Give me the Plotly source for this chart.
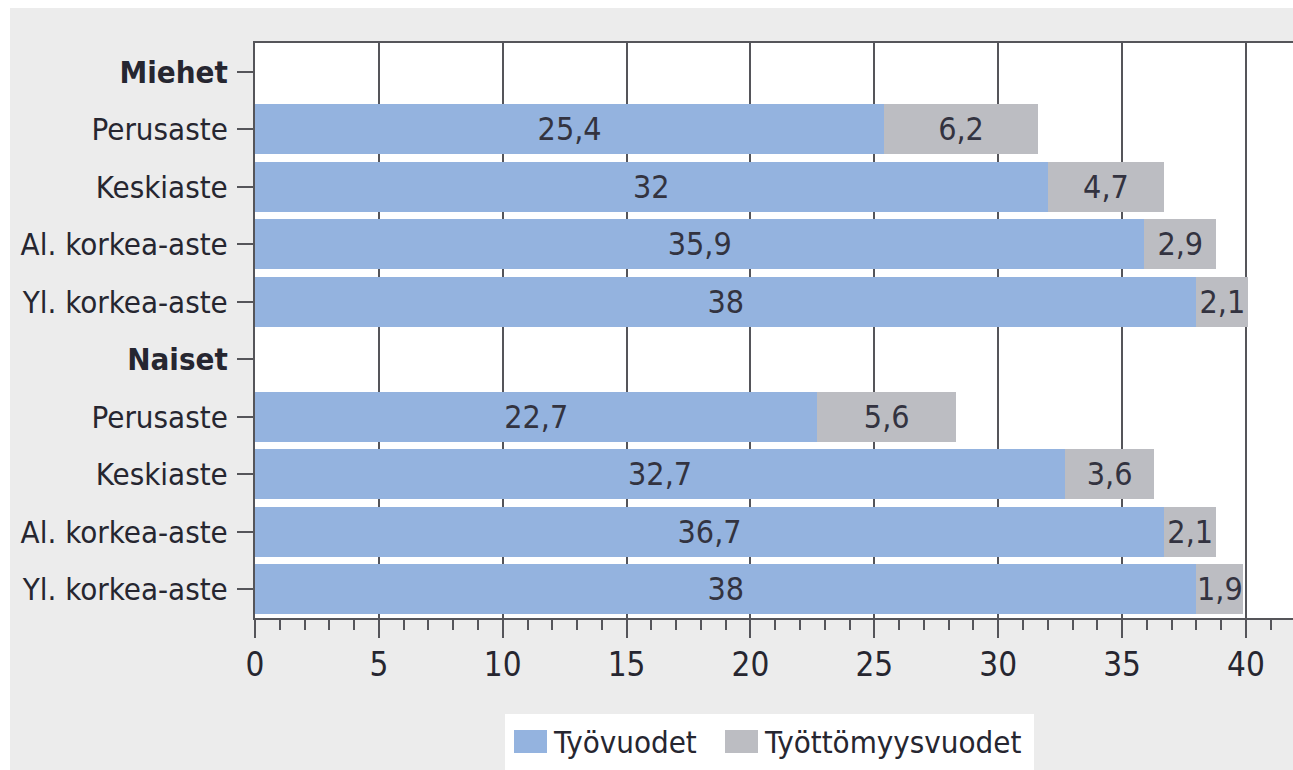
import plotly.graph_objects as go

categories = ["Miehet", "Perusaste", "Keskiaste", "Al. korkea-aste", "Yl. korkea-aste",
              "Naiset", "Perusaste ", "Keskiaste ", "Al. korkea-aste ", "Yl. korkea-aste "]
tick_labels = ["<b>Miehet</b>", "Perusaste", "Keskiaste", "Al. korkea-aste", "Yl. korkea-aste",
               "<b>Naiset</b>", "Perusaste", "Keskiaste", "Al. korkea-aste", "Yl. korkea-aste"]
series_names = ["Työvuodet", "Työttömyysvuodet"]
tyovuodet = [None, 25.4, 32, 35.9, 38, None, 22.7, 32.7, 36.7, 38]
tyottomyysvuodet = [None, 6.2, 4.7, 2.9, 2.1, None, 5.6, 3.6, 2.1, 1.9]
x_ticks = [0, 5, 10, 15, 20, 25, 30, 35, 40]

FONT = "DejaVu Sans Condensed, Roboto, sans-serif"
TXT = "#262630"
AX = "#55555a"
COLORS = ["#94b3df", "#bcbdc2"]


def fmt(v):
    if v is None:
        return ""
    return ("%g" % v).replace(".", ",")


fig = go.Figure()
for name, vals, col in zip(series_names, [tyovuodet, tyottomyysvuodet], COLORS):
    fig.add_trace(go.Bar(
        y=categories, x=vals, orientation="h", name=name,
        marker=dict(color=col, line=dict(width=0)),
        text=[fmt(v) for v in vals], textposition="inside", insidetextanchor="middle",
        textangle=0, constraintext="none",
        textfont=dict(family=FONT, size=32, color="#333340"),
        showlegend=False,
    ))

W, H = 1293, 770
L, R, T, B = 255, 0, 43, 770 - 618
pw, ph = W - L - R, H - T - B


def px2x(px):
    return (px - L) / pw


def py2y(py):
    return (H - B - py) / ph


shapes = [
    # white image border (top and left)
    dict(type="rect", xref="paper", yref="paper", x0=px2x(-5), x1=px2x(W + 5),
         y0=py2y(8), y1=py2y(-5), fillcolor="white", line=dict(width=0), layer="above"),
    dict(type="rect", xref="paper", yref="paper", x0=px2x(-5), x1=px2x(10),
         y0=py2y(H + 5), y1=py2y(-5), fillcolor="white", line=dict(width=0), layer="above"),
    # legend box
    dict(type="rect", xref="paper", yref="paper", x0=px2x(505), x1=px2x(1034),
         y0=py2y(H + 5), y1=py2y(714), fillcolor="white", line=dict(width=0), layer="above"),
]
annotations = []
leg_items = [(514, 547, 551), (725, 758, 762)]
for (sx0, sx1, tx), name, col in zip(leg_items, series_names, COLORS):
    shapes.append(dict(type="rect", xref="paper", yref="paper", x0=px2x(sx0), x1=px2x(sx1),
                       y0=py2y(753), y1=py2y(730), fillcolor=col, line=dict(width=0),
                       layer="above"))
    annotations.append(dict(xref="paper", yref="paper", x=px2x(tx), y=py2y(742),
                            xanchor="left", yanchor="middle", text=name, showarrow=False,
                            font=dict(family=FONT, size=31, color=TXT)))

fig.update_layout(
    width=W, height=H,
    margin=dict(l=L, r=R, t=T, b=B, pad=0),
    barmode="stack", bargap=0.13,
    paper_bgcolor="#ececec", plot_bgcolor="white",
    font=dict(family=FONT, size=31, color=TXT),
    showlegend=False,
    shapes=shapes, annotations=annotations,
    xaxis=dict(
        range=[0, 41.9], tickvals=x_ticks, ticktext=[str(v) for v in x_ticks],
        showgrid=True, gridcolor=AX, gridwidth=2,
        showline=True, linecolor=AX, linewidth=2, mirror=True,
        ticks="outside", ticklen=18, tickwidth=2, tickcolor=AX,
        minor=dict(dtick=1, tick0=0, ticks="outside", ticklen=10, tickwidth=2,
                   tickcolor=AX, showgrid=False),
        zeroline=False, tickfont=dict(family=FONT, size=33, color=TXT),
        ticklabelstandoff=-2,
        layer="below traces",
    ),
    yaxis=dict(
        categoryorder="array", categoryarray=categories, autorange="reversed",
        tickvals=categories, ticktext=tick_labels,
        showline=True, linecolor=AX, linewidth=2,
        ticks="outside", ticklen=16, tickwidth=2, tickcolor=AX,
        showgrid=False, tickfont=dict(family=FONT, size=31, color=TXT),
        ticklabelstandoff=3,
    ),
)

fig.write_html(
    "out.html",
    config={"displayModeBar": False},
    post_script="document.body.style.margin='0';document.body.style.overflow='hidden';",
)
